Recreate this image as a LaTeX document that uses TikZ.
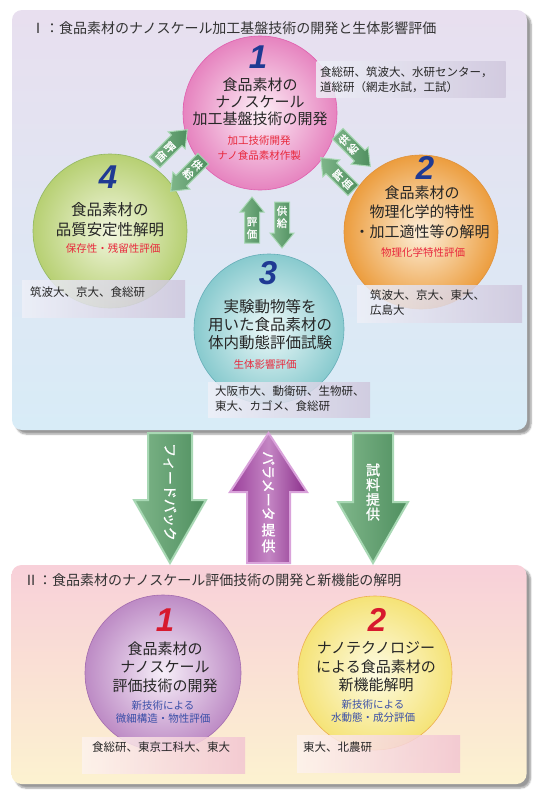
\documentclass[tikz,border=0pt]{standalone}
\usepackage{fontspec}
\usetikzlibrary{shadows.blur}
\newfontfamily\jp{Noto Sans CJK JP}
\newfontfamily\jpb{Noto Sans CJK JP}[FakeBold=1.2]
\newfontfamily\numfont{Liberation Sans}

\definecolor{panelItop}{HTML}{E8DFEF}
\definecolor{panelIbot}{HTML}{D8ECF7}
\definecolor{panelIItop}{HTML}{F8D0D9}
\definecolor{panelIIbot}{HTML}{FCF2D0}
\definecolor{pinkout}{HTML}{E683BF}
\definecolor{pinkin}{HTML}{FDF0F7}
\definecolor{pinkline}{HTML}{E05FAE}
\definecolor{greenout}{HTML}{B7D073}
\definecolor{greenin}{HTML}{F2F6DF}
\definecolor{greenline}{HTML}{93B862}
\definecolor{orangeout}{HTML}{EC9D3E}
\definecolor{orangein}{HTML}{FDF0DC}
\definecolor{orangeline}{HTML}{E0923C}
\definecolor{tealout}{HTML}{88CACE}
\definecolor{tealin}{HTML}{EEF9F9}
\definecolor{tealline}{HTML}{66AEB8}
\definecolor{purpout}{HTML}{BD8BC5}
\definecolor{purpin}{HTML}{F6EEF8}
\definecolor{purpline}{HTML}{A46CAF}
\definecolor{yellowout}{HTML}{F5E377}
\definecolor{yellowin}{HTML}{FDFBE4}
\definecolor{yellowline}{HTML}{EDB050}
\definecolor{numblue}{HTML}{1F3A93}
\definecolor{numred}{HTML}{D7192E}
\definecolor{redtext}{HTML}{E8283C}
\definecolor{bluetext}{HTML}{3A4FA8}
\definecolor{tagIleft}{HTML}{EEF0F8}
\definecolor{tagIright}{HTML}{CFC7DD}
\definecolor{tagIIleft}{HTML}{FDF3EE}
\definecolor{tagIIright}{HTML}{F2C5D2}
\definecolor{arrgL}{HTML}{7FB68A}
\definecolor{arrgR}{HTML}{4F8F5F}
\definecolor{arrgedge}{HTML}{A8D8B4}
\definecolor{arrpL}{HTML}{9A3E9A}
\definecolor{arrpM}{HTML}{C486C4}
\definecolor{arrpR}{HTML}{8A2E8A}
\definecolor{arrpedge}{HTML}{D9A2DA}

\tikzset{
  panel/.style={rounded corners=10pt, minimum width=515pt, inner sep=0pt,
    blur shadow={shadow xshift=4pt, shadow yshift=-4pt, shadow blur steps=6}},
  title/.style={font=\jp\fontsize{14}{16}\selectfont, text=black!80, inner sep=0pt, anchor=west},
  ball/.style={circle, minimum size=154pt, inner sep=0pt, draw=#1line, line width=0.6pt,
    inner color=#1in, outer color=#1out},
  num/.style={font=\numfont\bfseries\itshape\fontsize{33}{33}\selectfont, text=numblue, inner sep=0pt},
  maintext/.style={font=\jp\fontsize{15}{18.5}\selectfont, align=center, text=black!85, inner sep=0pt},
  subtext/.style={font=\jp\fontsize{10.5}{15}\selectfont, align=center, text=redtext, inner sep=0pt},
  tagI/.style={inner sep=0pt, left color=tagIleft, right color=tagIright, fill opacity=0.85},
  tagII/.style={inner sep=0pt, left color=tagIIleft, right color=tagIIright, fill opacity=0.85},
  tagtext/.style={font=\jp\fontsize{11.5}{15}\selectfont, align=left, inner sep=0pt, text=black!85, anchor=west},
  smallarr/.style={draw=arrgedge, line width=1pt, left color=arrgL, right color=arrgR},
  arrtext/.style={font=\jpb\fontsize{10.5}{12.5}\selectfont, text=white, align=center, inner sep=0pt, transform shape},
  bigg/.style={draw=arrgedge, line width=2pt, left color=arrgL, right color=arrgR},
  bigp/.style={draw=arrpedge, line width=2pt, left color=arrpL, right color=arrpR, middle color=arrpM},
  bigtext/.style={font=\jpb\fontsize{14}{15}\selectfont, text=white, align=center, inner sep=0pt},
  pics/uparr/.style 2 args={code={
    \draw[smallarr] (-7.5,23) -- (-7.5,-8) -- (-12,-8) -- (0,-23) -- (12,-8) -- (7.5,-8) -- (7.5,23) -- cycle;
    \node[arrtext] at (0,8) {#1\\#2};
  }},
  pics/downarr/.style 2 args={code={
    \draw[smallarr] (-7.5,-23) -- (-7.5,8) -- (-12,8) -- (0,23) -- (12,8) -- (7.5,8) -- (7.5,-23) -- cycle;
    \node[arrtext] at (0,-8) {#1\\#2};
  }},
}

\begin{document}
\begin{tikzpicture}[x=1pt,y=-1pt]
\useasboundingbox (0,0) rectangle (549,809);

% panels
\node[panel, top color=panelItop, bottom color=panelIbot, minimum height=420pt] (pI) at (269.5,220) {};
\node[panel, top color=panelIItop, bottom color=panelIIbot, minimum height=219pt] (pII) at (269,674.5) {};
\node[title] (tI) at (31,28) {Ⅰ：食品素材のナノスケール加工基盤技術の開発と生体影響評価};
\node[title] (tII) at (24,580) {Ⅱ：食品素材のナノスケール評価技術の開発と新機能の解明};

% circles of panel I
\node[ball=pink] (c1) at (260,113) {};
\node[ball=green] (c4) at (110,231) {};
\node[ball=orange] (c2) at (421,232) {};
\node[ball=teal, minimum size=150pt] (c3) at (269,329) {};

% circles of panel II
\node[ball=purp, minimum size=156pt] (d1) at (163,673) {};
\node[ball=yellow] (d2) at (375,673) {};

% name boxes
\node[tagI, minimum width=189pt, minimum height=36pt] (t1) at (411,79) {};
\node[tagI, minimum width=163pt, minimum height=37pt] (t4) at (103.5,298.5) {};
\node[tagI, minimum width=165pt, minimum height=37pt] (t2) at (439.5,303.5) {};
\node[tagI, minimum width=162pt, minimum height=35pt] (t3) at (289,399.5) {};
\node[tagII, minimum width=163pt, minimum height=36pt] (s1) at (163.5,755) {};
\node[tagII, minimum width=163pt, minimum height=37pt] (s2) at (378.5,753.5) {};

\node[tagtext] (n1) at (320,80) {食総研、筑波大、水研センター，\\道総研（網走水試，工試）};
\node[tagtext] (n4) at (30,292) {筑波大、京大、食総研};
\node[tagtext] (n2) at (370,302.5) {筑波大、京大、東大、\\広島大};
\node[tagtext] (n3) at (215,399) {大阪市大、動衛研、生物研、\\東大、カゴメ、食総研};
\node[tagtext] (m1) at (92,747) {食総研、東京工科大、東大};
\node[tagtext] (m2) at (303,747) {東大、北農研};

% texts in circles
\node[num] (k1) at (258,57) {1};
\node[maintext, font=\jp\fontsize{15}{17}\selectfont] (x1) at (260,102) {食品素材の\\ナノスケール\\加工基盤技術の開発};
\node[subtext] (r1) at (259,148) {加工技術開発\\ナノ食品素材作製};

\node[num] (k4) at (108,177) {4};
\node[maintext, font=\jp\fontsize{15.5}{20}\selectfont] (x4) at (110,220) {食品素材の\\品質安定性解明};
\node[subtext] (r4) at (113,248) {保存性・残留性評価};

\node[num] (k2) at (425,168) {2};
\node[maintext, font=\jp\fontsize{15}{19.5}\selectfont] (x2) at (422,212) {食品素材の\\物理化学的特性\\・加工適性等の解明};
\node[subtext] (r2) at (423,252) {物理化学特性評価};

\node[num] (k3) at (268,273) {3};
\node[maintext, font=\jp\fontsize{15.5}{18}\selectfont] (x3) at (270,325) {実験動物等を\\用いた食品素材の\\体内動態評価試験};
\node[subtext] (r3) at (265,365) {生体影響評価};

\node[num, text=numred] (q1) at (165,620) {1};
\node[maintext] (y1) at (165,667) {食品素材の\\ナノスケール\\評価技術の開発};
\node[subtext, text=bluetext, font=\jp\fontsize{10.5}{12.5}\selectfont] (b1) at (163,712) {新技術による\\微細構造・物性評価};

\node[num, text=numred] (q2) at (377,620) {2};
\node[maintext] (y2) at (376,667) {ナノテクノロジー\\による食品素材の\\新機能解明};
\node[subtext, text=bluetext, font=\jp\fontsize{10.5}{12.5}\selectfont] (b2) at (373,711) {新技術による\\水動態・成分評価};

% small arrows between the circles
\pic[rotate=-45] at (171,146) {uparr={評}{価}};
\pic[rotate=-45] at (187,175) {downarr={供}{給}};
\pic[rotate=45] at (354,150) {downarr={供}{給}};
\pic[rotate=45] at (337,174) {uparr={評}{価}};
\pic at (252,220) {uparr={評}{価}};
\pic at (282,225) {downarr={供}{給}};

% big arrows between the panels
\draw[bigg] (148,433) -- (192,433) -- (192,500) -- (206,500) -- (170,563) -- (134,500) -- (148,500) -- cycle;
\draw[bigp] (247,563) -- (290,563) -- (290,492) -- (307,492) -- (268.5,433) -- (230,492) -- (247,492) -- cycle;
\draw[bigg] (353,433) -- (393,433) -- (393,502) -- (408,502) -- (373,563) -- (338,502) -- (353,502) -- cycle;

\node[bigtext, rotate=-90] (f1) at (170,492) {フィードバック};
\node[bigtext, rotate=-90] (f2) at (268.5,486) {パラメータ};
\node[bigtext, font=\jpb\fontsize{14}{16}\selectfont] (f3) at (268.5,538) {提\\供};
\node[bigtext, font=\jpb\fontsize{14}{14.7}\selectfont] (f4) at (373,492) {試\\料\\提\\供};
\end{tikzpicture}
\end{document}
